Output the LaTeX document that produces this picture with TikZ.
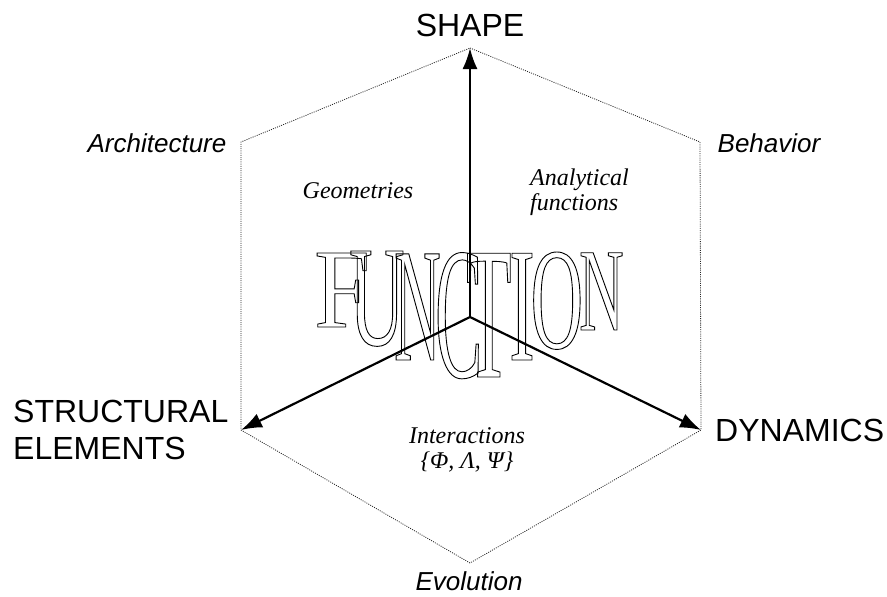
\documentclass[tikz,border=0pt]{standalone}
\usepackage{fontspec}
\setmainfont{Liberation Serif}
\setsansfont{Liberation Sans}
\newfontfamily\letterfont{Liberation Serif}
\usetikzlibrary{arrows.meta,positioning}

% one tall outlined letter: size, stretch, glyph
\newcommand{\hollowletter}[3]{%
  {\fontsize{#1}{#1}\letterfont\addfontfeature{FakeStretch=#2}%
   \special{pdf:literal direct 1 Tr 0.9 w}#3\special{pdf:literal direct 0 Tr}}}

\begin{document}
\begin{tikzpicture}[x=1pt, y=-1pt,
    axis/.style={line width=2.2pt, -{Latex[length=21pt,width=15pt]}},
    frame/.style={line width=0.8pt, dash pattern=on 1pt off 1.2pt, black!85},
    pole/.style={font=\sffamily\fontsize{32}{37}\selectfont, inner sep=0pt},
    facet/.style={font=\sffamily\itshape\fontsize{26}{30}\selectfont, inner sep=0pt},
    field/.style={font=\itshape\fontsize{24}{25}\selectfont, inner sep=0pt},
    letter/.style={anchor=base west, inner sep=0pt}
]
\useasboundingbox (0,0) rectangle (887,597);

% Hexagon corners
\coordinate (origin) at (470,317);
\coordinate (top) at (470,48);
\coordinate (ur) at (700,142);
\coordinate (lr) at (701,430);
\coordinate (bottom) at (470,563);
\coordinate (ll) at (241,430);
\coordinate (ul) at (241,142);

\draw[frame] (top) -- (ur) -- (lr) -- (bottom) -- (ll) -- (ul) -- cycle;

% Axes
\draw[axis] (origin) -- (top);
\draw[axis] (origin) -- (ll);
\draw[axis] (origin) -- (lr);

% Poles
\node[pole] (shape) at (470,25) {SHAPE};
\node[pole, align=left, anchor=west] (structural) at (13,430) {STRUCTURAL\\ELEMENTS};
\node[pole, anchor=west] (dynamics) at (715,430) {DYNAMICS};

% Facets
\node[facet] (architecture) at (157,143) {Architecture};
\node[facet] (behavior) at (769,143) {Behavior};
\node[facet] (evolution) at (469,581) {Evolution};

% Fields
\node[field] (geometries) at (358,191) {Geometries};
\node[field, align=left, anchor=west] (analytical) at (530,192) {Analytical\\functions};
\node[field, align=center] (interactions) at (467,450) {Interactions\\\{Φ, Λ, Ψ\}};

% FUNCTION
\node[letter] (f) at (314,327) {\hollowletter{113}{0.885}{F}};
\node[letter] (u) at (349,345) {\hollowletter{143.5}{0.535}{U}};
\node[letter] (n) at (394,360) {\hollowletter{162}{0.397}{N}};
\node[letter] (c) at (435,377) {\hollowletter{188}{0.375}{C}};
\node[letter] (t) at (466,377) {\hollowletter{189}{0.392}{T}};
\node[letter] (i) at (509,360) {\hollowletter{163}{0.47}{I}};
\node[letter] (o) at (530.5,348) {\hollowletter{145}{0.5}{O}};
\node[letter] (n2) at (579,330) {\hollowletter{118}{0.52}{N}};

\end{tikzpicture}
\end{document}
